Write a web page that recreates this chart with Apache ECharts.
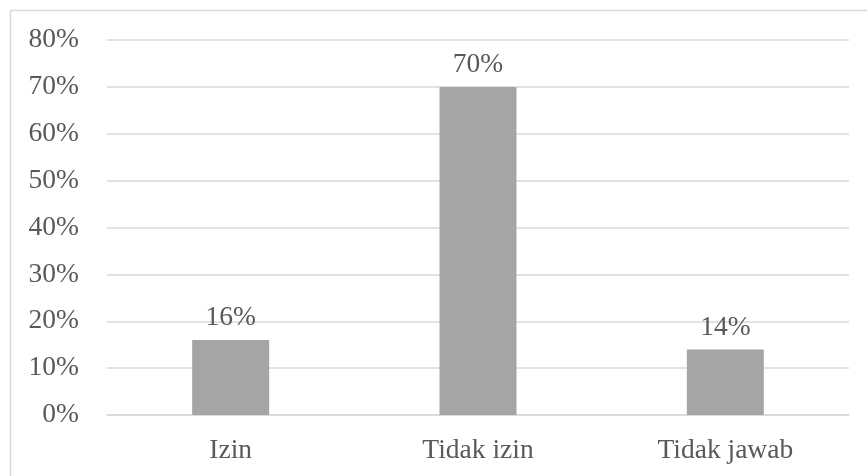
<!DOCTYPE html>
<html>
<head>
<meta charset="utf-8">
<script src="https://cdn.jsdelivr.net/npm/echarts@6/dist/echarts.min.js"></script>
<style>
  html, body { margin: 0; padding: 0; background: #fff; }
  #chart { width: 867px; height: 476px; }
</style>
</head>
<body>
<div id="chart"></div>
<script>
// Survey answers (percent of respondents)
const categories = ['Izin', 'Tidak izin', 'Tidak jawab'];
const values = [16, 70, 14];
const yTicks = [0, 10, 20, 30, 40, 50, 60, 70, 80];

const FONT = '"Liberation Serif", "Times New Roman", serif';
const TEXT = '#595959';
const SIZE = 27.5;

const chart = echarts.init(document.getElementById('chart'), null, { renderer: 'canvas' });
chart.setOption({
  backgroundColor: '#ffffff',
  animation: false,
  graphic: [{
    type: 'rect',
    shape: { x: 10.5, y: 10.5, width: 880, height: 500 },
    style: { fill: 'none', stroke: '#D9D9D9', lineWidth: 1.5 },
    silent: true
  }],
  grid: { left: 107, right: 18, top: 40, bottom: 61, containLabel: false },
  xAxis: {
    type: 'category',
    data: categories,
    axisLine: { show: true, lineStyle: { color: '#D9D9D9', width: 1.5 } },
    axisTick: { show: false },
    axisLabel: { color: TEXT, fontFamily: FONT, fontSize: SIZE, margin: 22 }
  },
  yAxis: {
    type: 'value',
    min: yTicks[0],
    max: yTicks[yTicks.length - 1],
    interval: 10,
    axisLine: { show: false },
    axisTick: { show: false },
    splitLine: { lineStyle: { color: '#D9D9D9', width: 1.5 } },
    axisLabel: {
      color: TEXT, fontFamily: FONT, fontSize: SIZE, margin: 28,
      formatter: v => v + '%'
    }
  },
  series: [{
    type: 'bar',
    data: values,
    barWidth: 77,
    itemStyle: { color: '#A5A5A5' },
    label: {
      show: true,
      position: 'top',
      distance: 8,
      color: TEXT,
      fontFamily: FONT,
      fontSize: SIZE,
      formatter: p => p.value + '%'
    }
  }]
});
</script>
</body>
</html>
